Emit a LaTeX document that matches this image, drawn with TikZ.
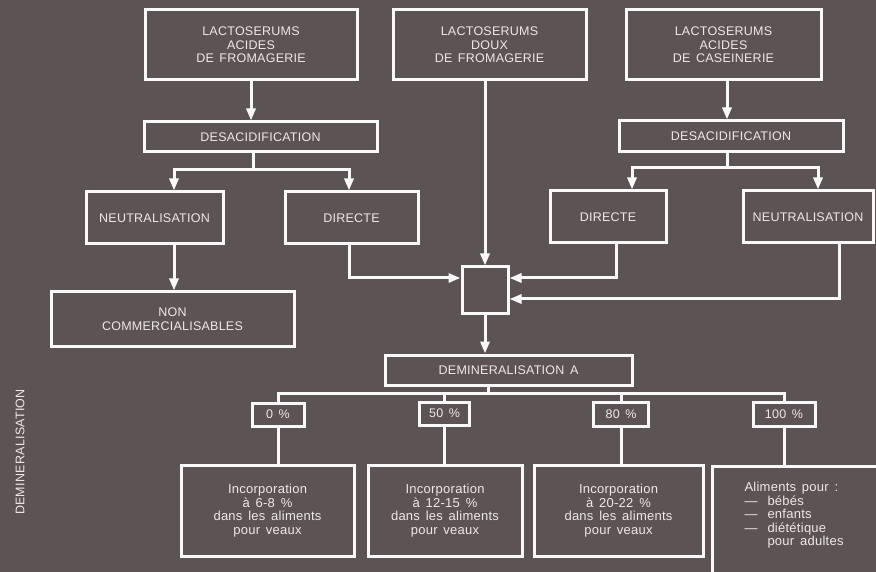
\documentclass[tikz,border=0pt]{standalone}
\usepackage{fontspec}
\setmainfont{Liberation Sans}
\newfontfamily\capsfont[LetterSpace=2,WordSpace=1.3]{Liberation Sans}
\newfontfamily\lowfont[LetterSpace=2,WordSpace=1.5]{Liberation Sans}
\usepackage{tikz}
\usetikzlibrary{arrows.meta}
\usetikzlibrary{calc}
\definecolor{bgcol}{RGB}{92,83,84}
\definecolor{linecol}{RGB}{250,248,248}
\definecolor{txtcol}{RGB}{236,233,233}

\begin{document}
\begin{tikzpicture}[x=1pt,y=-1pt]
      \newcommand{\tiret}{\makebox[23pt][l]{—}}
      \tikzstyle{edge}  = [draw=linecol,line width=3pt]
      \tikzstyle{dedge} = [->,>={Triangle[width=9pt,length=12pt]},draw=linecol,line width=3pt]
      \tikzstyle{box}=[
        draw=linecol,
        line width=3pt,
        text=txtcol,
        align=center,
        inner sep=0pt,
        font=\capsfont\fontsize{12.5}{13.5}\selectfont,
      ]
      \tikzstyle{lbox}=[box, font=\lowfont\fontsize{13}{13.5}\selectfont]

      \useasboundingbox (0,0) rectangle (876,572);
      \fill[bgcol] (0,0) rectangle (876,572);
      \clip (0,0) rectangle (876,572);

      \node[box, minimum width=212, minimum height=70] (lact1) at (251,45) {LACTOSERUMS\\ACIDES\\DE FROMAGERIE};
      \node[box, minimum width=193, minimum height=70] (lact2) at (489.5,45) {LACTOSERUMS\\DOUX\\DE FROMAGERIE};
      \node[box, minimum width=195, minimum height=70] (lact3) at (723.5,45) {LACTOSERUMS\\ACIDES\\DE CASEINERIE};
      \node[box, minimum width=233, minimum height=30] (desac1) at (260.5,137) {DESACIDIFICATION};
      \node[box, minimum width=224, minimum height=31] (desac2) at (731,136.5) {DESACIDIFICATION};
      \node[box, minimum width=137, minimum height=52] (neutr1) at (154.5,218) {NEUTRALISATION};
      \node[box, minimum width=133, minimum height=52] (direct1) at (351.5,218) {DIRECTE};
      \node[box, minimum width=116, minimum height=52] (direct2) at (608,217) {DIRECTE};
      \node[box, minimum width=130, minimum height=52] (neutr2) at (808,217) {NEUTRALISATION};
      \node[box, minimum width=243, minimum height=54] (noncom) at (172.5,319) {NON\\COMMERCIALISABLES};
      \node[box, minimum size=46] (junc) at (485,290) {};
      \node[box, minimum width=247, minimum height=30] (demin) at (508.5,370) {DEMINERALISATION A};
      \node[box, minimum width=52, minimum height=23] (pct0) at (278,414.5) {0 \%};
      \node[box, minimum width=50, minimum height=23] (pct50) at (444.5,413.5) {50 \%};
      \node[box, minimum width=55, minimum height=24] (pct80) at (621,414) {80 \%};
      \node[box, minimum width=62, minimum height=24] (pct100) at (784,414) {100 \%};
      \node[lbox, minimum width=173, minimum height=91] (inc1) at (267.5,510.5) {Incorporation\\à 6-8 \%\\dans les aliments\\pour veaux};
      \node[lbox, minimum width=154, minimum height=91] (inc2) at (445,510.5) {Incorporation\\à 12-15 \%\\dans les aliments\\pour veaux};
      \node[lbox, minimum width=169, minimum height=91] (inc3) at (618.5,510.5) {Incorporation\\à 20-22 \%\\dans les aliments\\pour veaux};
      \node[lbox, minimum width=200, minimum height=130, anchor=north west] (alim) at (711,465) {};
      \node[lbox, draw=none, align=left, anchor=north west] (alimtxt) at (743,481) {Aliments pour :\\\tiret bébés\\\tiret enfants\\\tiret diététique\\\hspace*{23pt}pour adultes};
      \node[box, draw=none, rotate=90] (side) at (20,452) {DEMINERALISATION};

      % left branch
      \coordinate (fork1) at (253,170);
      \coordinate (n1in) at ($(neutr1.north)+(19.5,0)$);
      \coordinate (d1in) at ($(direct1.north)+(-2.5,0)$);
      \draw[dedge] (lact1.south) -- (lact1.south |- desac1.north);
      \draw[edge] (fork1 |- desac1.south) -- (fork1);
      \draw[dedge] (fork1) -| (n1in);
      \draw[dedge] (fork1) -| (d1in);
      \draw[dedge] (n1in |- neutr1.south) -- (n1in |- noncom.north);
      \draw[dedge] (d1in |- direct1.south) |- ($(junc.west)+(0,-12)$);

      % middle
      \draw[dedge] (junc.north |- lact2.south) -- (junc.north);

      % right branch
      \coordinate (fork2) at (727,168);
      \coordinate (d2in) at ($(direct2.north)+(24,0)$);
      \coordinate (n2in) at ($(neutr2.north)+(10,0)$);
      \draw[dedge] (fork2 |- lact3.south) -- (fork2 |- desac2.north);
      \draw[edge] (fork2 |- desac2.south) -- (fork2);
      \draw[dedge] (fork2) -| (d2in);
      \draw[dedge] (fork2) -| (n2in);
      \draw[dedge] ($(direct2.south)+(8,0)$) |- ($(junc.east)+(0,-12)$);
      \draw[dedge] ($(neutr2.south)+(31,0)$) |- ($(junc.east)+(0,9)$);

      % demineralisation
      \coordinate (fork3) at (488,393);
      \draw[dedge] (junc.south) -- (junc.south |- demin.north);
      \draw[edge] (fork3 |- demin.south) -- (fork3);
      \draw[edge] (pct0.north) |- (fork3) -| (pct100.north);
      \draw[edge] (pct50.north) -- (pct50.north |- fork3);
      \draw[edge] (pct80.north) -- (pct80.north |- fork3);
      \draw[edge] (pct0.south) -- (pct0.south |- inc1.north);
      \draw[edge] (pct50.south) -- (pct50.south |- inc2.north);
      \draw[edge] (pct80.south) -- (pct80.south |- inc3.north);
      \draw[edge] (pct100.south) -- (pct100.south |- alim.north);
    \end{tikzpicture}
\end{document}
